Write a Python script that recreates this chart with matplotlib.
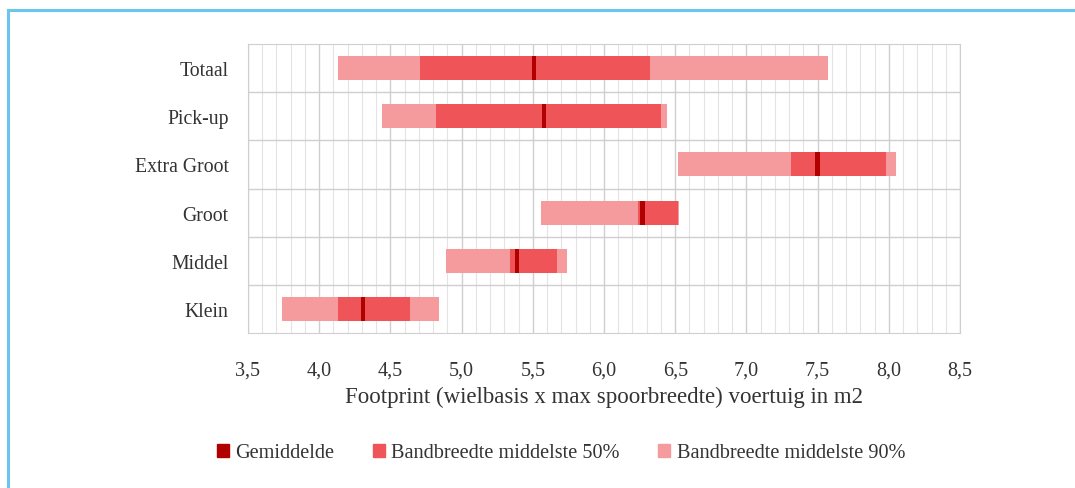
# footprint per voertuigklasse: bandbreedte middelste 90% / 50% en gemiddelde
import matplotlib
matplotlib.use("Agg")
import matplotlib.pyplot as plt
import matplotlib.patches as mpatches
from matplotlib.lines import Line2D
from matplotlib.ticker import MultipleLocator, FuncFormatter

categories = ["Totaal", "Pick-up", "Extra Groot", "Groot", "Middel", "Klein"]
p90_low = [4.13, 4.44, 6.52, 5.56, 4.89, 3.74]
p90_high = [7.57, 6.44, 8.05, 6.53, 5.74, 4.84]
p50_low = [4.71, 4.82, 7.31, 6.24, 5.34, 4.13]
p50_high = [6.32, 6.40, 7.98, 6.52, 5.67, 4.64]
mean = [5.51, 5.58, 7.50, 6.27, 5.39, 4.31]

c_mean = "#b00000"
c_50 = "#ef5459"
c_90 = "#f59b9d"
txt = "#333333"

plt.rcParams['font.family'] = ['Liberation Serif', 'DejaVu Serif']

fig = plt.figure(figsize=(10.75, 4.89), dpi=100)
ax = fig.add_axes([248/1075, 1 - 334/489, (960-248)/1075, (334-45)/489])

y = list(range(len(categories)))[::-1]
h = 0.5
ax.barh(y, [b - a for a, b in zip(p90_low, p90_high)], left=p90_low, height=h, color=c_90, zorder=3)
ax.barh(y, [b - a for a, b in zip(p50_low, p50_high)], left=p50_low, height=h, color=c_50, zorder=4)
mw = 0.03
ax.barh(y, [mw]*len(mean), left=[m - mw/2 for m in mean], height=h, color=c_mean, zorder=5)

ax.set_xlim(3.5, 8.5)
ax.set_ylim(-0.5, len(categories) - 0.5)
ax.xaxis.set_major_locator(MultipleLocator(0.5))
ax.xaxis.set_minor_locator(MultipleLocator(0.1))
ax.xaxis.set_major_formatter(FuncFormatter(lambda v, p: f"{v:.1f}".replace(".", ",")))
ax.set_yticks(y)
ax.set_yticklabels(categories)
ax.set_yticks([i + 0.5 for i in range(len(categories) - 1)], minor=True)

ax.grid(axis='x', which='major', color="#cfcfcf", lw=1.0, zorder=0)
ax.grid(axis='x', which='minor', color="#e3e3e3", lw=0.8, zorder=0)
ax.grid(axis='y', which='minor', color="#cfcfcf", lw=1.0, zorder=0)
ax.set_axisbelow(True)
for s in ax.spines.values():
    s.set_color("#cfcfcf")
ax.tick_params(which='both', length=0, colors=txt)
ax.tick_params(axis='x', pad=20, labelsize=14.5)
ax.tick_params(axis='y', pad=14, labelsize=14.2)

ax.set_xlabel("Footprint (wielbasis x max spoorbreedte) voertuig in m2", fontsize=16.5, color=txt, labelpad=4)

handles = [mpatches.Patch(color=c_mean, label="Gemiddelde"),
           mpatches.Patch(color=c_50, label="Bandbreedte middelste 50%"),
           mpatches.Patch(color=c_90, label="Bandbreedte middelste 90%")]
leg = fig.legend(handles=handles, loc='center', bbox_to_anchor=(0.522, 1 - 454/489), ncol=3,
                 frameon=False, fontsize=14.6, handlelength=0.6, handleheight=0.6,
                 handletextpad=0.3, columnspacing=1.9)
for t in leg.get_texts():
    t.set_color(txt)

# blauwe kader
fig.add_artist(Line2D([8/1075, 8/1075], [0, 1 - 11/489], color="#6cc5ef", lw=2.2))
fig.add_artist(Line2D([8/1075, 1], [1 - 11/489, 1 - 11/489], color="#6cc5ef", lw=2.2))

fig.savefig("out.png", dpi=100)
plt.close()
